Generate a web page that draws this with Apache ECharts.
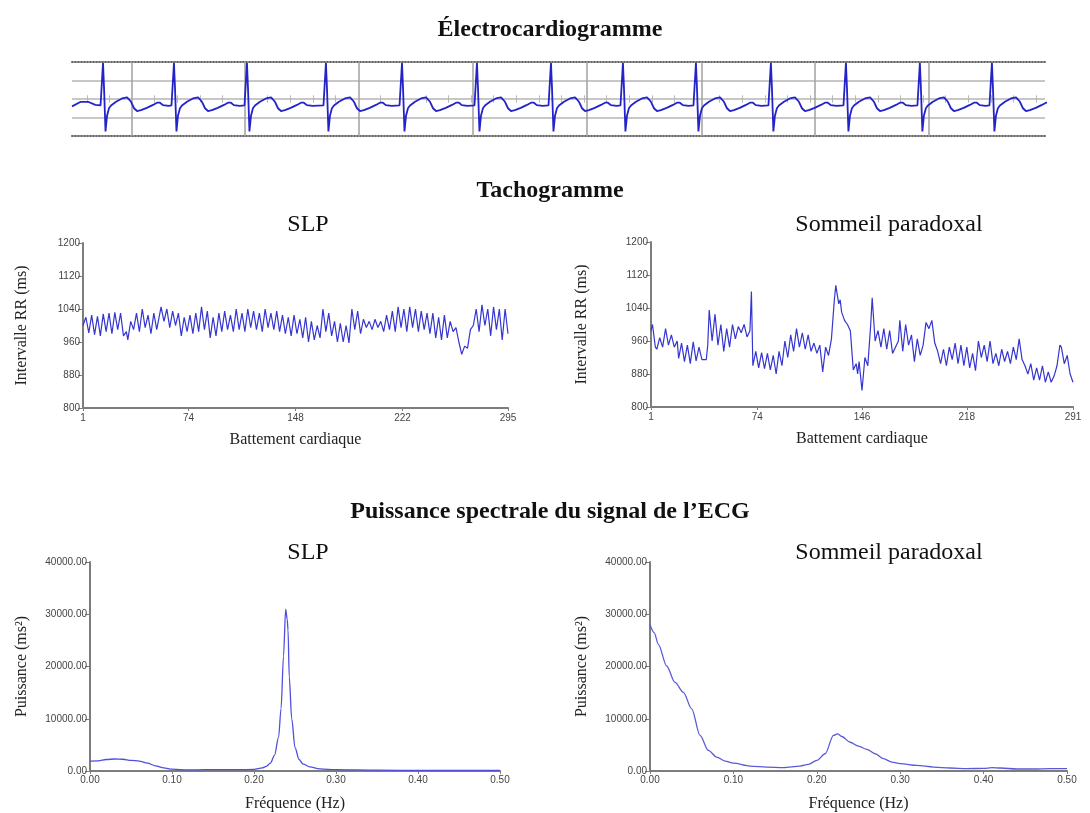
<!DOCTYPE html>
<html>
<head>
<meta charset="utf-8">
<script src="https://cdn.jsdelivr.net/npm/echarts@6/dist/echarts.min.js"></script>
<style>
  html, body { margin: 0; padding: 0; background: #fff; }
  #chart { width: 1090px; height: 813px; }
</style>
</head>
<body>
<div id="chart"></div>
<script>
const ecgBeatTimes = [0.425, 1.397, 2.397, 3.479, 4.521, 5.548, 6.562, 7.548, 8.548, 9.575, 10.603, 11.616, 12.603];
const ecgWaveT = [-0.034, -0.016, 0, 0.014, 0.034, 0.055, 0.082, 0.11, 0.178, 0.26, 0.33, 0.384, 0.425, 0.466, 0.52, 0.60, 0.685, 0.74, 0.78, 0.82, 0.90];
const ecgWaveV = [-0.35, -0.45, 1.95, 0.6, -1.75, -0.9, -0.5, -0.35, -0.15, 0.03, 0.09, -0.15, -0.5, -0.65, -0.6, -0.48, -0.32, -0.2, -0.2, -0.33, -0.37];
const ecgLead = [[0, -0.4], [0.12, -0.15], [0.22, -0.15], [0.32, -0.32]];
const ecgGridX = [0.822, 2.370, 3.932, 5.493, 7.055, 8.630, 10.178, 11.740];
const ecgGridY = [-1, 0, 1];

// ---- Tachogrammes [battement, RR ms] ----
const slpRR = [
  [1,1000],[3,1020],[5,982],[7,1025],[9,978],[11,1022],[13,975],[15,1028],[17,985],[19,1030],
  [21,980],[23,1032],[25,990],[27,1030],[29,975],[31,985],[32,965],[34,1010],[36,990],[38,1030],
  [40,985],[42,1040],[44,995],[46,1025],[48,980],[50,1030],[52,990],[55,1045],[57,1010],[59,1040],
  [61,995],[63,1035],[65,1000],[67,1030],[69,975],[71,1020],[73,985],[75,1025],[77,980],[79,1030],
  [81,985],[83,1045],[85,990],[87,1035],[89,970],[91,1020],[93,975],[95,1030],[97,985],[99,1035],
  [101,990],[103,1025],[105,985],[107,1040],[109,990],[111,1030],[113,985],[115,1040],[117,995],[119,1035],
  [121,990],[123,1030],[125,985],[127,1040],[129,995],[131,1030],[133,990],[135,1035],[137,985],[139,1025],
  [141,980],[143,1020],[145,975],[147,1025],[149,980],[151,1015],[153,970],[155,1020],[157,960],[159,1010],
  [161,965],[163,1000],[165,970],[167,1040],[169,985],[171,1030],[173,975],[175,1010],[177,960],[179,1005],
  [181,960],[183,1000],[185,958],[187,1040],[189,990],[191,1035],[193,980],[195,1015],[197,995],[199,1010],
  [201,990],[203,1015],[205,995],[207,1010],[209,985],[211,1025],[213,990],[215,1035],[217,985],[219,1045],
  [221,995],[223,1040],[225,985],[227,1045],[229,995],[231,1040],[233,985],[235,1035],[237,990],[239,1030],
  [241,980],[243,1030],[245,970],[247,1020],[249,965],[251,1025],[253,970],[255,1010],[257,985],[259,995],
  [261,960],[263,930],[265,950],[267,945],[269,990],[271,1000],[273,1040],[275,985],[277,1050],[279,1000],
  [281,1040],[283,975],[285,1045],[287,990],[289,1040],[291,965],[293,1040],[295,980]
];
const remRR = [
  [1,985],[2,1000],[4,945],[5,940],[7,968],[9,945],[11,990],[13,950],[15,975],[17,945],
  [19,960],[20,918],[22,955],[24,910],[26,950],[28,905],[30,958],[32,912],[34,945],[36,915],
  [39,915],[40,950],[41,1035],[43,960],[45,1025],[47,950],[49,1000],[51,935],[53,990],[55,945],
  [57,1000],[59,965],[61,995],[63,980],[65,1000],[67,970],[69,985],[70,1080],[71,900],[73,935],
  [75,895],[77,932],[79,893],[81,930],[83,890],[85,925],[87,880],[89,935],[91,900],[93,960],
  [95,920],[97,975],[99,935],[101,990],[103,945],[105,980],[107,940],[109,975],[111,935],[113,955],
  [115,930],[117,950],[119,885],[121,945],[123,925],[125,965],[127,1060],[128,1095],[130,1050],[131,1060],
  [132,1030],[134,1010],[136,1000],[138,985],[140,890],[142,905],[143,880],[144,910],[146,840],[148,920],
  [150,900],[152,1000],[153,1065],[155,960],[157,985],[159,945],[161,990],[163,940],[165,985],[167,930],
  [169,945],[171,960],[172,1010],[174,935],[176,1000],[178,950],[180,975],[182,910],[184,965],[186,925],
  [188,950],[190,1005],[192,990],[194,1010],[196,955],[198,935],[200,905],[202,940],[204,900],[206,945],
  [208,915],[210,955],[212,905],[214,950],[216,900],[218,945],[220,895],[222,930],[224,888],[226,960],
  [228,920],[230,950],[232,910],[234,960],[236,905],[238,930],[240,900],[242,940],[244,910],[246,935],
  [248,905],[250,945],[252,915],[254,965],[256,915],[258,900],[260,880],[262,905],[264,865],[266,895],
  [268,865],[270,900],[272,860],[274,885],[276,860],[278,875],[280,900],[282,950],[283,945],[285,905],
  [287,925],[289,880],[291,860]
];
const slpTicks = [1, 74, 148, 222, 295];
const remTicks = [1, 74, 146, 218, 291];

// ---- Puissance spectrale [Hz, ms2] ----
const slpPsd = [
  [0,1900],[0.01,1950],[0.02,2200],[0.03,2300],[0.04,2250],[0.05,2050],[0.06,1900],[0.07,1500],
  [0.08,1000],[0.09,600],[0.10,350],[0.12,200],[0.14,250],[0.16,250],[0.18,250],[0.20,300],
  [0.21,600],[0.215,900],[0.22,1500],[0.225,3000],[0.23,6500],[0.233,12000],[0.236,22000],
  [0.2386,31000],[0.2405,29000],[0.2415,27000],[0.243,18000],[0.246,10000],[0.25,4500],
  [0.255,2200],[0.26,1300],[0.268,800],[0.28,400],[0.30,250],[0.35,150],[0.40,100],[0.45,100],[0.50,100]
];
const remPsd = [
  [0,28000],[0.005,26500],[0.01,24250],[0.02,20100],[0.03,16950],[0.04,15050],[0.05,11900],
  [0.06,6800],[0.07,3940],[0.08,2670],[0.09,1900],[0.10,1500],[0.12,950],[0.14,760],[0.16,640],
  [0.18,950],[0.19,1270],[0.20,2030],[0.21,3300],[0.22,6800],[0.225,7100],[0.23,6600],[0.24,5500],
  [0.25,4760],[0.26,4130],[0.27,3300],[0.28,2350],[0.29,1700],[0.30,1400],[0.32,1080],[0.34,760],
  [0.36,570],[0.38,450],[0.40,500],[0.41,640],[0.42,570],[0.44,380],[0.46,380],[0.48,450],[0.50,450]
];

const serif = '"Liberation Serif", "Times New Roman", serif';
const sans = '"Liberation Sans", Arial, sans-serif';
const axisGray = '#7d7d7d';

// ecg trace
const ecgData = ecgLead.slice();
ecgBeatTimes.forEach(t => {
  ecgWaveT.forEach((dt, i) => ecgData.push([t + dt, ecgWaveV[i]]));
});

// petits traits sur la ligne médiane (5 par grand carreau)
const ecgStep = (ecgGridX[1] - ecgGridX[0]) / 5;
const ecgMinor = [];
for (let x = ecgGridX[0] - 2 * ecgStep; x < 13.3; x += ecgStep) {
  ecgMinor.push([{ coord: [x, -0.2] }, { coord: [x, 0.2] }]);
}

const ecgMarks = []
  .concat(ecgGridY.map(v => ({ yAxis: v })))
  .concat(ecgGridX.map(v => ({ xAxis: v, lineStyle: { color: '#a0a0a0', width: 1.5 } })))
  .concat(ecgMinor.map(p => [Object.assign({ lineStyle: { color: '#b8b8b8', width: 1 } }, p[0]), p[1]]));

function xAx(grid, min, max, opt) {
  return Object.assign({
    gridIndex: grid, type: 'value', min: min, max: max,
    axisLine: { onZero: false, lineStyle: { color: axisGray, width: 2 } },
    axisTick: { show: true, length: 3, lineStyle: { color: axisGray } },
    axisLabel: { fontFamily: sans, fontSize: 10, color: '#444', margin: 4 },
    splitLine: { show: false },
    nameLocation: 'middle',
    nameTextStyle: { fontFamily: serif, fontSize: 16, color: '#222' }
  }, opt);
}
function yAx(grid, min, max, interval, opt) {
  return Object.assign({
    gridIndex: grid, type: 'value', min: min, max: max, interval: interval,
    axisLine: { show: true, lineStyle: { color: axisGray, width: 2 } },
    axisTick: { show: true, length: 5, lineStyle: { color: axisGray } },
    axisLabel: { fontFamily: sans, fontSize: 10, color: '#444', margin: 3, formatter: v => String(v) },
    splitLine: { show: false },
    nameLocation: 'middle',
    nameTextStyle: { fontFamily: serif, fontSize: 16, color: '#222' }
  }, opt);
}

const fmt2 = v => v.toFixed(2);
const plain = v => String(v);
const boldTitle = { fontFamily: serif, fontWeight: 'bold', fontSize: 24, color: '#111' };
const subTitle = { fontFamily: serif, fontWeight: 'normal', fontSize: 24, color: '#111' };

const option = {
  animation: false,
  backgroundColor: '#fff',
  title: [
    { text: 'Électrocardiogramme', left: 545, top: 13, textAlign: 'center', textStyle: boldTitle },
    { text: 'Tachogramme', left: 545, top: 174, textAlign: 'center', textStyle: boldTitle },
    { text: 'SLP', left: 303, top: 208, textAlign: 'center', textStyle: subTitle },
    { text: 'Sommeil paradoxal', left: 884, top: 208, textAlign: 'center', textStyle: subTitle },
    { text: 'Puissance spectrale du signal de l’ECG', left: 545, top: 495, textAlign: 'center', textStyle: boldTitle },
    { text: 'SLP', left: 303, top: 536, textAlign: 'center', textStyle: subTitle },
    { text: 'Sommeil paradoxal', left: 884, top: 536, textAlign: 'center', textStyle: subTitle }
  ],
  grid: [
    { left: 72, top: 62, width: 973, height: 74 },
    { left: 83, top: 243, width: 425, height: 165 },
    { left: 651, top: 242, width: 422, height: 165 },
    { left: 90, top: 562, width: 410, height: 210 },
    { left: 650, top: 562, width: 417, height: 210 }
  ],
  xAxis: [
    // ecg bas / haut (bords pointillés)
    { gridIndex: 0, type: 'value', min: 0, max: 13.33, position: 'bottom',
      axisLine: { onZero: false, lineStyle: { color: '#666', width: 2, type: [1, 2] } },
      axisTick: { show: false }, axisLabel: { show: false }, splitLine: { show: false } },
    { gridIndex: 0, type: 'value', min: 0, max: 13.33, position: 'top',
      axisLine: { onZero: false, lineStyle: { color: '#666', width: 2, type: [1, 2] } },
      axisTick: { show: false }, axisLabel: { show: false }, splitLine: { show: false } },
    xAx(1, 1, 295, { name: 'Battement cardiaque', nameGap: 24,
      axisLabel: { fontFamily: sans, fontSize: 10, color: '#444', margin: 5, formatter: plain, customValues: slpTicks },
      axisTick: { show: true, length: 3, lineStyle: { color: axisGray }, customValues: slpTicks } }),
    xAx(2, 1, 291, { name: 'Battement cardiaque', nameGap: 24,
      axisLabel: { fontFamily: sans, fontSize: 10, color: '#444', margin: 5, formatter: plain, customValues: remTicks },
      axisTick: { show: true, length: 3, lineStyle: { color: axisGray }, customValues: remTicks } }),
    xAx(3, 0, 0.5, { interval: 0.1, name: 'Fréquence (Hz)', nameGap: 25,
      axisLabel: { fontFamily: sans, fontSize: 10, color: '#444', margin: 4, formatter: fmt2 } }),
    xAx(4, 0, 0.5, { interval: 0.1, name: 'Fréquence (Hz)', nameGap: 25,
      axisLabel: { fontFamily: sans, fontSize: 10, color: '#444', margin: 4, formatter: fmt2 } })
  ],
  yAxis: [
    { gridIndex: 0, type: 'value', min: -2, max: 2, show: false },
    yAx(1, 800, 1200, 80, { name: 'Intervalle RR (ms)', nameGap: 53 }),
    yAx(2, 800, 1200, 80, { name: 'Intervalle RR (ms)', nameGap: 61 }),
    yAx(3, 0, 40000, 10000, { name: 'Puissance (ms²)', nameGap: 60,
      axisLabel: { fontFamily: sans, fontSize: 10, color: '#444', margin: 3, formatter: fmt2 } }),
    yAx(4, 0, 40000, 10000, { name: 'Puissance (ms²)', nameGap: 60,
      axisLabel: { fontFamily: sans, fontSize: 10, color: '#444', margin: 3, formatter: fmt2 } })
  ],
  series: [
    {
      type: 'line', xAxisIndex: 0, yAxisIndex: 0, data: ecgData, showSymbol: false,
      lineStyle: { color: '#2323c8', width: 1.8 }, z: 3,
      markLine: {
        z: 1, silent: true, symbol: ['none', 'none'], label: { show: false },
        lineStyle: { type: 'solid', color: '#b4b4b4', width: 1.5 },
        data: ecgMarks
      }
    },
    { type: 'line', xAxisIndex: 2, yAxisIndex: 1, data: slpRR, showSymbol: false,
      lineStyle: { color: '#3535d0', width: 1.2 } },
    { type: 'line', xAxisIndex: 3, yAxisIndex: 2, data: remRR, showSymbol: false,
      lineStyle: { color: '#3535d0', width: 1.2 } },
    { type: 'line', xAxisIndex: 4, yAxisIndex: 3, data: slpPsd, showSymbol: false,
      smooth: 0.3, smoothMonotone: 'x', lineStyle: { color: '#4f4fdc', width: 1.3 } },
    { type: 'line', xAxisIndex: 5, yAxisIndex: 4, data: remPsd, showSymbol: false,
      smooth: 0.3, smoothMonotone: 'x', lineStyle: { color: '#5a5ad8', width: 1.3 } }
  ]
};

const chart = echarts.init(document.getElementById('chart'));
chart.setOption(option);
window.addEventListener('resize', () => chart.resize());
</script>
</body>
</html>
